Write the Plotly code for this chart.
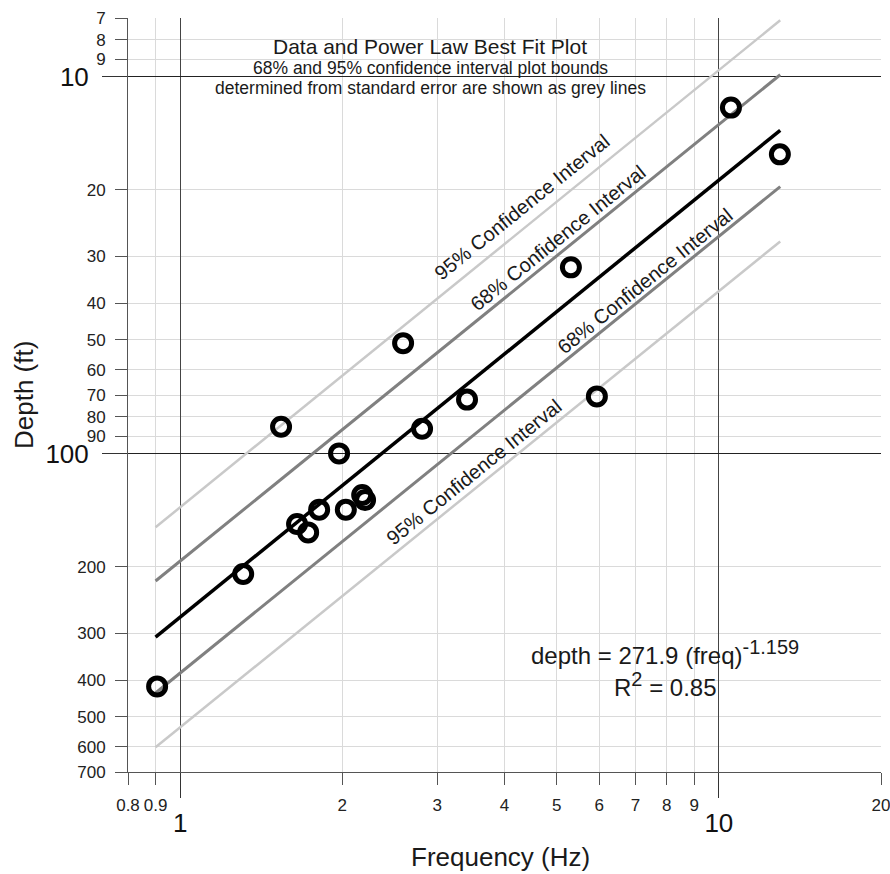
import plotly.graph_objects as go

FONT = "Liberation Sans, Arial, sans-serif"

# ---- data ----
freq = [0.906, 1.309, 1.648, 1.728, 1.811, 2.03, 2.177, 2.204, 1.972, 1.539,
        2.593, 2.812, 3.408, 5.313, 5.937, 10.53, 12.98]
depth = [415, 209, 154, 162, 141, 141, 129, 133, 100, 85,
         51, 86, 72, 32.1, 70.6, 12.1, 16.1]

line_freq = [0.9, 13.0]
fit_depth = [307, 13.9]
upper68 = [218, 9.9]
lower68 = [432, 19.6]
upper95 = [157, 7.1]
lower95 = [602, 27.4]

x_minor_vals = [0.8, 0.9, 2, 3, 4, 5, 6, 7, 8, 9, 20]
x_minor_text = ["0.8", "0.9", "2", "3", "4", "5", "6", "7", "8", "9", "20"]
x_major_vals = [1, 10]
x_major_text = ["1", "10"]
y_minor_vals = [7, 8, 9, 20, 30, 40, 50, 60, 70, 80, 90, 200, 300, 400, 500, 600, 700]
y_minor_text = ["7", "8", "9", "20", "30", "40", "50", "60", "70", "80", "90",
                "200", "300", "400", "500", "600", "700"]
y_major_vals = [10, 100]
y_major_text = ["10", "100"]

# ---- layout geometry (pixels) ----
W, H = 890, 874
L, R, T, B = 128, 9, 18, 102
PW = W - L - R
PH = H - T - B


def px(x):
    return (x - L) / PW


def py(y):
    return (H - B - y) / PH


fig = go.Figure()

fig.add_trace(go.Scatter(x=line_freq, y=upper95, mode="lines",
                         line=dict(color="#c9c9c9", width=2.5), showlegend=False))
fig.add_trace(go.Scatter(x=line_freq, y=lower95, mode="lines",
                         line=dict(color="#c9c9c9", width=2.5), showlegend=False))
fig.add_trace(go.Scatter(x=line_freq, y=upper68, mode="lines",
                         line=dict(color="#808080", width=3), showlegend=False))
fig.add_trace(go.Scatter(x=line_freq, y=lower68, mode="lines",
                         line=dict(color="#808080", width=3), showlegend=False))
fig.add_trace(go.Scatter(x=line_freq, y=fit_depth, mode="lines",
                         line=dict(color="#000000", width=3.5), showlegend=False))
fig.add_trace(go.Scatter(x=freq, y=depth, mode="markers",
                         marker=dict(symbol="circle-open", size=17, color="#000000",
                                     line=dict(width=5, color="#000000")),
                         showlegend=False))
# helper trace for the overlaid major-tick axes
fig.add_trace(go.Scatter(x=[1], y=[10], xaxis="x2", yaxis="y2", mode="markers",
                         marker=dict(opacity=0), hoverinfo="skip", showlegend=False))

xr = [-0.09691, 1.30103]
yr = [2.845098, 0.845098]

fig.update_layout(
    width=W, height=H,
    margin=dict(l=L, r=R, t=T, b=B, autoexpand=False),
    paper_bgcolor="white", plot_bgcolor="white",
    font=dict(family=FONT, color="#1a1a1a"),
    xaxis=dict(type="log", range=xr, tickmode="array", tickvals=x_minor_vals,
               ticktext=x_minor_text, ticks="outside", ticklen=12, tickcolor="#555",
               tickfont=dict(size=17, color="#222"), showgrid=True,
               gridcolor="#dadada", gridwidth=1, showline=True, linecolor="#555",
               linewidth=1, zeroline=False, ticklabelstandoff=6, automargin=False,
               ticklabeloverflow="allow"),
    yaxis=dict(type="log", range=yr, tickmode="array", tickvals=y_minor_vals,
               ticktext=y_minor_text, ticks="outside", ticklen=12, tickcolor="#555",
               tickfont=dict(size=17, color="#222"), showgrid=True,
               gridcolor="#dadada", gridwidth=1, showline=True, linecolor="#555",
               linewidth=1, zeroline=False, ticklabelstandoff=6, automargin=False,
               ticklabeloverflow="allow"),
    xaxis2=dict(type="log", range=xr, overlaying="x", anchor="y", side="bottom",
                tickmode="array", tickvals=x_major_vals, ticktext=x_major_text,
                ticks="outside", ticklen=25, tickcolor="#333",
                tickfont=dict(size=26, color="#111"), showgrid=True,
                gridcolor="#444", gridwidth=1, showline=False, zeroline=False,
                ticklabelstandoff=3, automargin=False),
    yaxis2=dict(type="log", range=yr, overlaying="y", anchor="x", side="left",
                tickmode="array", tickvals=y_major_vals, ticktext=y_major_text,
                ticks="outside", ticklen=25, tickcolor="#333",
                tickfont=dict(size=26, color="#111"), showgrid=True,
                gridcolor="#222", gridwidth=1, showline=False, zeroline=False,
                ticklabelstandoff=8, automargin=False),
)

# white boxes behind the texts
fig.add_shape(type="rect", xref="paper", yref="paper", x0=px(203), x1=px(657),
              y0=py(110), y1=py(22), fillcolor="white", line=dict(width=0),
              layer="between")
fig.add_shape(type="rect", xref="paper", yref="paper", x0=px(517), x1=px(813),
              y0=py(712), y1=py(625), fillcolor="white", line=dict(width=0),
              layer="between")


def note(text, x, y, size, angle=0, color="#1a1a1a"):
    fig.add_annotation(text=text, xref="paper", yref="paper", x=px(x), y=py(y),
                       xanchor="center", yanchor="middle", showarrow=False,
                       textangle=angle, font=dict(size=size, color=color, family=FONT))


note("Data and Power Law Best Fit Plot", 430, 47, 21)
note("68% and 95% confidence interval plot bounds", 430, 68, 17.5)
note("determined from standard error are shown as grey lines", 430, 88, 17.5)

note("depth = 271.9 (freq)<sup><span style='font-size:20px'>-1.159</span></sup>",
     665, 652, 24)
note("R<sup><span style='font-size:20px'>2</span></sup> = 0.85", 665, 684, 24)

ang = -38.9
note("95% Confidence Interval", 522, 207, 20, ang)
note("68% Confidence Interval", 558, 238, 20, ang)
note("68% Confidence Interval", 645, 281, 20, ang)
note("95% Confidence Interval", 474, 472, 20, ang)

note("Frequency (Hz)", 500, 857, 26)
note("Depth (ft)", 24, 395, 26, -90)

fig.write_html("out.html")
